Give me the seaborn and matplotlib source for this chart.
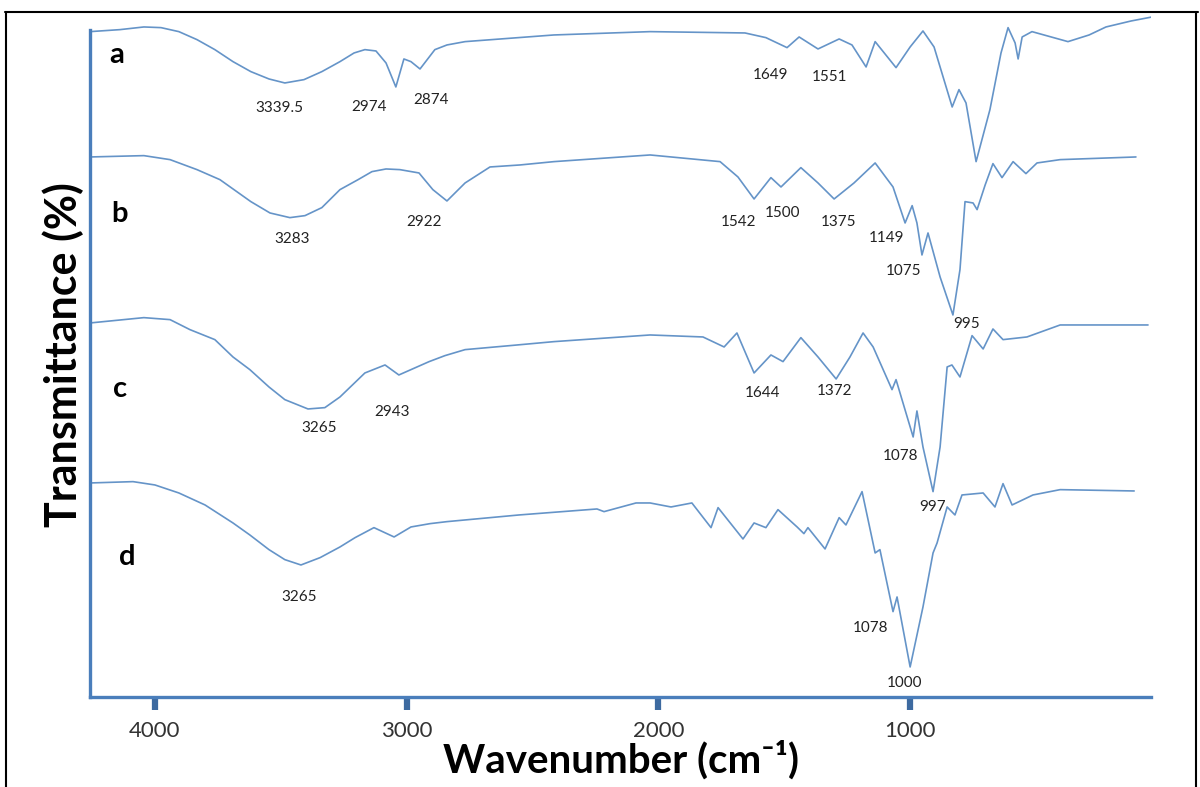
"""
FTIR spectra a-d, stacked, redrawn from the figure
"""

import matplotlib
matplotlib.use("Agg")
import matplotlib.pyplot as plt
import pandas as pd
import seaborn as sns

# wavenumber (cm-1) and transmittance (arbitrary %, stacked)
wn_a = [4258, 4139, 4044, 3976, 3905, 3833, 3762, 3690, 3619, 3547, 3484, 3408, 3337, 3265, 3209,
        3166, 3122, 3082, 3043, 3011, 2983, 2947, 2888, 2840, 2768, 2415, 2033, 1656, 1573, 1489,
        1441, 1366, 1282, 1231, 1175, 1139, 1056, 1000, 949, 905, 833, 806, 778, 738, 683, 639,
        611, 583, 571, 555, 516, 373, 289, 222, 122, 39]
t_a = [99.8, 100.1, 100.5, 100.4, 99.8, 98.6, 97.1, 95.3, 93.8, 92.7, 92.1, 92.6, 93.8, 95.3, 96.6,
       97.1, 96.9, 95.1, 91.5, 95.7, 95.3, 94.2, 97.1, 97.8, 98.3, 99.3, 99.8, 99.6, 98.9, 97.4,
       99.0, 97.2, 98.7, 97.8, 94.5, 98.3, 94.4, 97.5, 99.9, 97.5, 88.5, 91.1, 89.1, 80.3, 88.1, 96.6,
       100.4, 98.1, 95.7, 99.0, 99.8, 98.3, 99.3, 100.5, 101.4, 102.0]

wn_b = [4258, 4044, 3940, 3833, 3742, 3619, 3543, 3464, 3404, 3337, 3265, 3193, 3138, 3082, 3027,
        2951, 2896, 2840, 2768, 2669, 2550, 2415, 2033, 1755, 1684, 1620, 1553, 1513, 1434, 1366,
        1302, 1223, 1139, 1068, 1020, 992, 973, 953, 929, 881, 830, 802, 782, 750, 734, 702, 671,
        635, 591, 540, 496, 404, 103]
t_b = [81.0, 81.2, 80.6, 79.1, 77.6, 74.3, 72.6, 71.9, 72.2, 73.4, 76.1, 77.6, 78.8, 79.2, 79.1,
       78.6, 76.1, 74.4, 77.1, 79.5, 79.8, 80.3, 81.3, 80.3, 78.0, 74.7, 77.9, 76.5, 79.4, 77.1,
       74.7, 77.1, 80.1, 76.5, 71.1, 73.7, 71.1, 66.3, 69.6, 63.0, 57.3, 64.1, 74.3, 74.1, 73.1,
       76.8, 80.0, 77.9, 80.3, 78.5, 80.1, 80.6, 81.0]

wn_c = [4258, 4044, 3940, 3861, 3762, 3690, 3623, 3547, 3484, 3392, 3325, 3265, 3166, 3086, 3031,
        2911, 2848, 2768, 2590, 2415, 2033, 1823, 1739, 1688, 1620, 1553, 1505, 1434, 1366, 1294,
        1239, 1187, 1147, 1072, 1056, 988, 973, 949, 909, 881, 853, 834, 802, 754, 710, 671, 631,
        536, 404, 55]
t_c = [56.1, 56.9, 56.6, 55.1, 53.6, 51.0, 49.1, 46.5, 44.6, 43.2, 43.4, 45.0, 48.6, 49.8, 48.3,
       50.3, 51.2, 52.1, 52.7, 53.3, 54.3, 54.0, 52.5, 54.6, 48.6, 51.3, 50.3, 53.9, 51.0, 47.7,
       51.0, 54.6, 52.5, 46.1, 47.6, 39.0, 42.9, 37.5, 30.8, 37.5, 49.5, 49.8, 48.0, 54.2, 52.2,
       55.2, 53.6, 54.0, 55.8, 55.8]

wn_d = [4258, 4087, 4000, 3905, 3801, 3690, 3623, 3547, 3484, 3420, 3344, 3265, 3205, 3130, 3050,
        2983, 2907, 2840, 2554, 2244, 2216, 2089, 2033, 1950, 1867, 1791, 1763, 1664, 1620, 1573,
        1525, 1449, 1422, 1406, 1338, 1282, 1255, 1191, 1139, 1120, 1068, 1052, 1000, 949, 909,
        893, 853, 822, 794, 710, 663, 631, 595, 512, 404, 110]
t_d = [32.1, 32.3, 31.8, 30.6, 28.8, 26.1, 24.3, 22.1, 20.6, 19.8, 20.9, 22.5, 23.9, 25.4, 24.0,
       25.5, 26.0, 26.3, 27.3, 28.2, 27.8, 29.1, 29.1, 28.5, 29.1, 25.4, 28.4, 23.7, 26.1, 25.4,
       28.1, 25.5, 24.5, 25.4, 22.2, 26.9, 25.8, 30.8, 21.6, 22.1, 12.8, 15.0, 4.5, 13.5, 21.6,
       23.1, 28.5, 27.3, 30.3, 30.6, 28.5, 32.0, 28.8, 30.3, 31.1, 30.9]

# sample letters and where they sit
samples = ["a", "b", "c", "d"]
sample_wn = [4151, 4139, 4139, 4111]
sample_t = [96.3, 72.5, 46.2, 21.0]

# peak annotations: text, wavenumber, transmittance
peak_text = ["3339.5", "2974", "2874", "1649", "1551",
             "3283", "2922", "1542", "1500", "1375", "1149", "1075", "995",
             "3265", "2943", "1644", "1372", "1078", "997",
             "3265", "1078", "1000"]
peak_wn = [3507, 3150, 2903, 1553, 1322,
           3456, 2931, 1680, 1505, 1286, 1092, 1028, 774,
           3348, 3058, 1588, 1302, 1040, 909,
           3428, 1159, 1024]
peak_t = [88.4, 88.5, 89.6, 93.3, 93.0,
          68.7, 71.3, 71.3, 72.6, 71.3, 68.9, 63.9, 56.0,
          40.4, 42.8, 45.6, 45.9, 36.2, 28.5,
          15.0, 10.4, 2.1]

xticks = [4000, 3000, 2000, 1000]

df = pd.concat([
    pd.DataFrame({"wavenumber": wn_a, "T": t_a, "sample": "a"}),
    pd.DataFrame({"wavenumber": wn_b, "T": t_b, "sample": "b"}),
    pd.DataFrame({"wavenumber": wn_c, "T": t_c, "sample": "c"}),
    pd.DataFrame({"wavenumber": wn_d, "T": t_d, "sample": "d"}),
])

sns.set_theme(style="white")
plt.rcParams["font.family"] = ["Lato", "DejaVu Sans"]

line_col = "#6594c8"
axis_col = "#4a7ebb"

fig = plt.figure(figsize=(12, 7.87), dpi=100)
ax = fig.add_axes([0.075, 0.1144, 0.8842, 0.8704])

sns.lineplot(data=df, x="wavenumber", y="T", units="sample", estimator=None, sort=False,
             color=line_col, linewidth=1.2, ax=ax, solid_joinstyle="round")

ax.set_xlim(4258, 43)
ax.set_ylim(0, 102.75)

for s in ["top", "right"]:
    ax.spines[s].set_visible(False)
for s in ["left", "bottom"]:
    ax.spines[s].set_color(axis_col)
    ax.spines[s].set_linewidth(2.4)
ax.spines["left"].set_bounds(0, 100)

ax.set_xticks(xticks)
ax.set_xticklabels([str(v) for v in xticks])
ax.set_yticks([])
ax.tick_params(axis="x", direction="out", length=9, width=4.5, color="#3d6aa0",
               labelsize=16, labelcolor="#333333", pad=8, bottom=True)

ax.set_xlabel("Wavenumber (cm\u207b\u00b9)", fontsize=29, fontweight="bold", color="black",
              labelpad=0)
ax.set_ylabel("Transmittance (%)", fontsize=31, fontweight="bold", color="black", labelpad=4)

for s, x, y in zip(samples, sample_wn, sample_t):
    ax.text(x, y, s, fontsize=21, fontweight="bold", ha="center", va="center", color="black")

for s, x, y in zip(peak_text, peak_wn, peak_t):
    ax.text(x, y, s, fontsize=11, ha="center", va="center", color="#222222")

# thin black frame round the picture (no bottom edge)
frame = dict(color="black", linewidth=1.5, transform=fig.transFigure)
fig.add_artist(plt.Line2D([0.004, 0.998], [0.985, 0.985], **frame))
fig.add_artist(plt.Line2D([0.005, 0.005], [0.0, 0.985], **frame))
fig.add_artist(plt.Line2D([0.997, 0.997], [0.0, 0.985], **frame))

fig.savefig("out.png", dpi=100)
